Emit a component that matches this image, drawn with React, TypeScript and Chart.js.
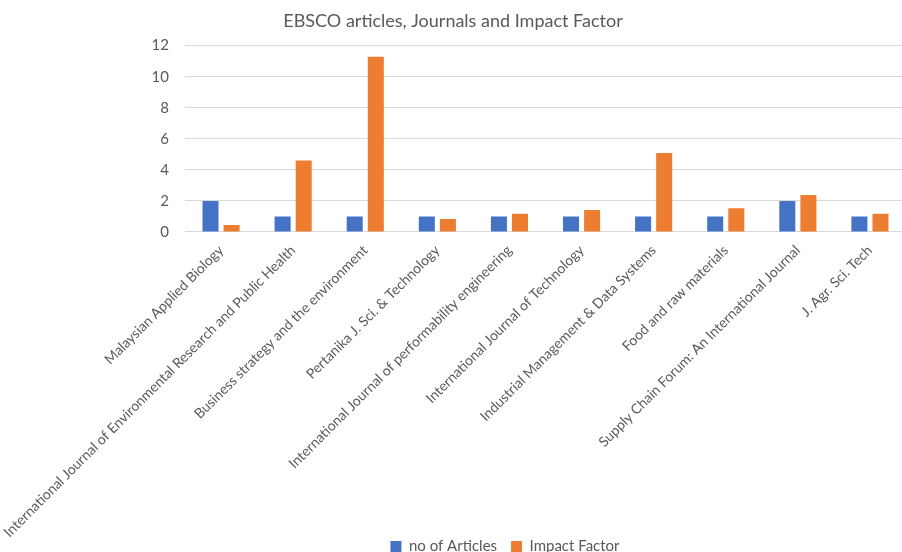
import React, { useEffect, useRef } from "react";
import { Chart, registerables } from "chart.js";

Chart.register(...registerables);

const categories = [
  "Malaysian Applied Biology",
  "International Journal of Environmental Research and Public Health",
  "Business strategy and the environment",
  "Pertanika J. Sci. & Technology",
  "International Journal of performability engineering",
  "International Journal of Technology",
  "Industrial Management & Data Systems",
  "Food and raw materials",
  "Supply Chain Forum: An International Journal",
  "J. Agr. Sci. Tech",
];
const articles = [2, 1, 1, 1, 1, 1, 1, 1, 2, 1];
const impactFactor = [0.45, 4.6, 11.29, 0.84, 1.18, 1.42, 5.08, 1.53, 2.39, 1.18];
const yTicks = [0, 2, 4, 6, 8, 10, 12];

const FONT = "Lato, 'Open Sans', sans-serif";
const TEXT = "#595959";

const layoutTweaks = {
  id: "layoutTweaks",
  afterLayout(chart: any) {
    const lg = chart.legend;
    if (lg) {
      const dx = 52;
      const dy = 12;
      lg.left += dx;
      lg.right += dx;
      lg.top += dy;
      lg.bottom += dy;
    }
    const xs = chart.scales.x;
    if (xs) xs.bottom = chart.height;
  },
};

export default function App() {
  const ref = useRef<HTMLCanvasElement | null>(null);
  useEffect(() => {
    if (!ref.current) return;
    const chart = new Chart(ref.current, {
      type: "bar",
      data: {
        labels: categories,
        datasets: [
          {
            label: "no of Articles",
            data: articles,
            backgroundColor: "#4472C4",
            categoryPercentage: 0.585,
            barPercentage: 0.76,
          },
          {
            label: "Impact Factor",
            data: impactFactor,
            backgroundColor: "#ED7D31",
            categoryPercentage: 0.585,
            barPercentage: 0.76,
          },
        ],
      },
      plugins: [layoutTweaks],
      options: {
        animation: false,
        responsive: false,
        maintainAspectRatio: false,
        layout: { padding: { left: 0, right: 0, top: 6, bottom: 0 } },
        plugins: {
          title: {
            display: true,
            text: "EBSCO articles, Journals and Impact Factor",
            color: TEXT,
            font: { family: FONT, size: 18, weight: "normal" },
            padding: { top: 4, bottom: 14 },
          },
          legend: {
            position: "bottom",
            labels: {
              color: TEXT,
              font: { family: FONT, size: 15 },
              boxWidth: 11,
              boxHeight: 11,
              padding: 14,
            },
          },
          tooltip: { enabled: false },
        },
        scales: {
          x: {
            grid: { display: false, drawTicks: false },
            border: { color: "#d9d9d9", width: 1 },
            ticks: {
              color: TEXT,
              font: { family: FONT, size: 14 },
              minRotation: 45,
              maxRotation: 45,
              autoSkip: false,
              padding: 10,
            },
            afterFit: (s: any) => {
              s.height = 281;
            },
          },
          y: {
            min: 0,
            max: 12,
            afterBuildTicks: (s: any) => {
              s.ticks = yTicks.map((v) => ({ value: v }));
            },
            grid: { color: "#d9d9d9", drawTicks: false },
            border: { display: false },
            ticks: {
              color: TEXT,
              font: { family: FONT, size: 15 },
              padding: 16,
            },
            afterFit: (s: any) => {
              s.width = 185;
            },
          },
        },
      },
    });
    return () => chart.destroy();
  }, []);
  return (
    <div
      style={{
        position: "fixed",
        left: 0,
        top: 0,
        width: 902,
        height: 552,
        overflow: "hidden",
        background: "#fff",
      }}
    >
      <canvas ref={ref} width={906} height={552} style={{ display: "block" }} />
    </div>
  );
}
